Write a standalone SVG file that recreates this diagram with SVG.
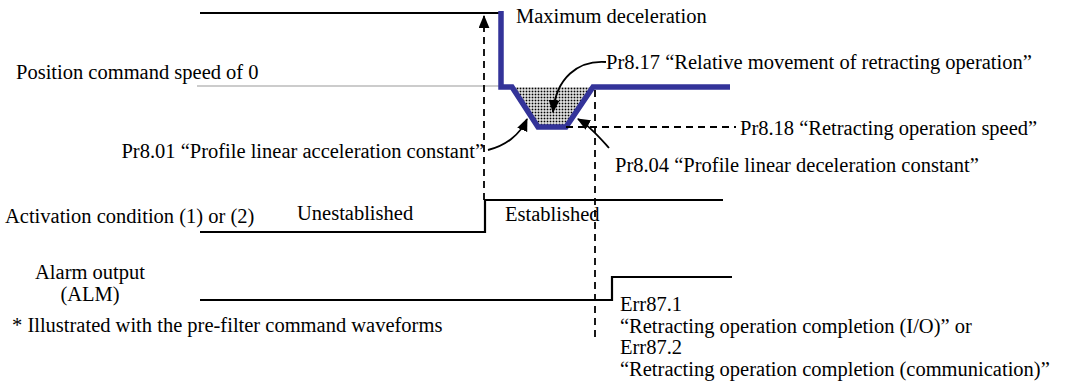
<svg xmlns="http://www.w3.org/2000/svg" width="1087" height="387" viewBox="0 0 1087 387">
<style>
text{font-family:"Liberation Serif","Times New Roman",serif;font-size:20.5px;fill:#000}
.sig{fill:none;stroke:#000;stroke-width:2.2}
.dash{fill:none;stroke:#000;stroke-width:1.8;stroke-dasharray:7,5}
.arr{fill:none;stroke:#000;stroke-width:1.8}
</style>
<defs>
<pattern id="dots" width="3" height="3" patternUnits="userSpaceOnUse">
<rect width="3" height="3" fill="#fff"/>
<rect x="0.6" y="0.6" width="1.8" height="1.8" fill="#000"/>
</pattern>
<marker id="ah" viewBox="0 0 12 10" refX="11" refY="5" markerWidth="13" markerHeight="11" markerUnits="userSpaceOnUse" orient="auto">
<path d="M0,0 L12,5 L0,10 z" fill="#000"/>
</marker>
</defs>
<g id="speed">
<line x1="197" y1="86" x2="500" y2="86" stroke="#bbb" stroke-width="1.5"/>
<line x1="200" y1="13" x2="500" y2="13" class="sig"/>
<polygon points="513,87 538,127 566,127 594,87" fill="url(#dots)"/>
<path d="M501,11 V87 H512 L538,127 H566 L593,87 H730" fill="none" stroke="#333399" stroke-width="5.5"/>
</g>
<g id="activation">
<path d="M200,232 H485 V200 H723" class="sig"/>
</g>
<g id="alarm">
<path d="M200,300 H612 V277 H732" class="sig"/>
</g>
<g id="connectors">
<line x1="484" y1="200" x2="484" y2="16" class="dash" marker-end="url(#ah)"/>
<path d="M595,90 V337" class="dash"/>
<path d="M566,127 H736" class="dash"/>
<path d="M606,62 C578,60 556,78 553,112" class="arr" marker-end="url(#ah)"/>
<path d="M488,150 C505,146 520,135 527,119" class="arr" marker-end="url(#ah)"/>
<path d="M609,148 C600,138 590,126 578,119" class="arr" marker-end="url(#ah)"/>
</g>
<g id="labels">
<text x="516" y="23">Maximum deceleration</text>
<text x="16" y="79">Position command speed of 0</text>
<text x="606" y="69">Pr8.17 “Relative movement of retracting operation”</text>
<text x="740" y="135">Pr8.18 “Retracting operation speed”</text>
<text x="484" y="158" text-anchor="end">Pr8.01 “Profile linear acceleration constant”</text>
<text x="615" y="172">Pr8.04 “Profile linear deceleration constant”</text>
<text x="5" y="223">Activation condition (1) or (2)</text>
<text x="297" y="220">Unestablished</text>
<text x="505" y="221">Established</text>
<text x="90" y="279" text-anchor="middle">Alarm output</text>
<text x="90" y="301" text-anchor="middle">(ALM)</text>
<text x="12" y="332">* Illustrated with the pre-filter command waveforms</text>
<text x="620" y="311">Err87.1</text>
<text x="620" y="333">“Retracting operation completion (I/O)” or</text>
<text x="620" y="354">Err87.2</text>
<text x="620" y="376">“Retracting operation completion (communication)”</text>
</g>
</svg>
